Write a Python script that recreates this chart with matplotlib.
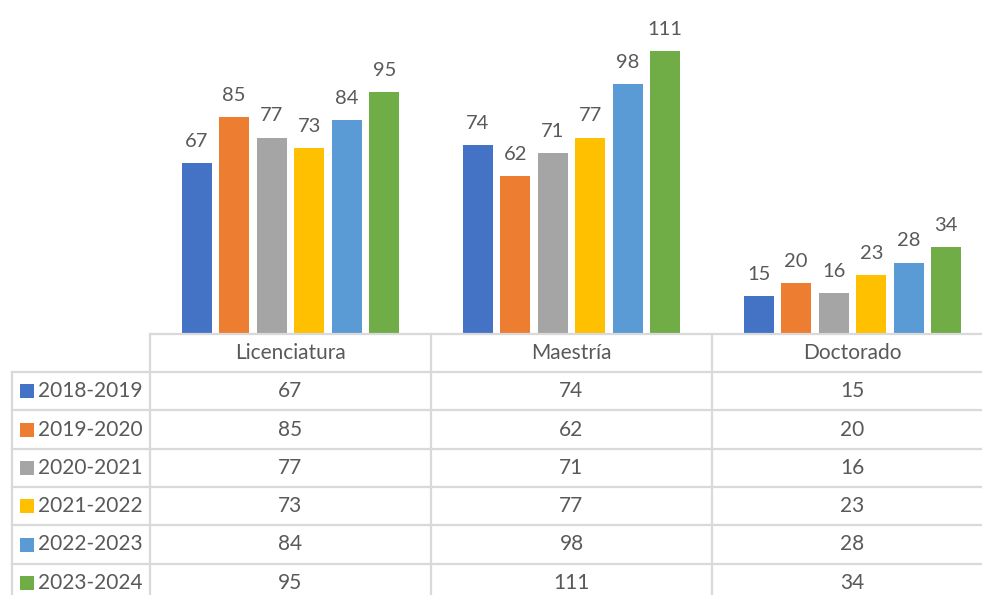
import numpy as np
import matplotlib.pyplot as plt

plt.rcParams['font.family'] = ['Lato', 'DejaVu Sans']

categories = ['Licenciatura', 'Maestría', 'Doctorado']
years = ['2018-2019', '2019-2020', '2020-2021', '2021-2022', '2022-2023', '2023-2024']
values = [
    [67, 74, 15],
    [85, 62, 20],
    [77, 71, 16],
    [73, 77, 23],
    [84, 98, 28],
    [95, 111, 34],
]
colors = ['#4472C4', '#ED7D31', '#A5A5A5', '#FFC000', '#5B9BD5', '#70AD47']

W, H = 982, 595
txt = '#595959'
grid = '#D9D9D9'

fig = plt.figure(figsize=(W / 100, H / 100), dpi=100)

# bar area (pixel layout from the reference)
x0, x1, ybase = 150, 993, 334
ax = fig.add_axes([x0 / W, (H - ybase) / H, (x1 - x0) / W, ybase / H])
x = np.arange(len(categories))
step, bw = 0.1335, 0.107
for i, (yr, vals) in enumerate(zip(years, values)):
    pos = x + (i - 2.5) * step
    bars = ax.bar(pos, vals, bw, color=colors[i])
    for b, v in zip(bars, vals):
        ax.annotate(str(v), (b.get_x() + b.get_width() / 2, v), xytext=(0, 9.5),
                    textcoords='offset points', ha='center', va='bottom',
                    fontsize=14.5, color=txt)
ax.set_xlim(-0.5, 2.5)
ax.set_ylim(0, 131)
ax.axis('off')

# data table drawn in pixel coordinates
tb = fig.add_axes([0, 0, 1, 1])
tb.set_xlim(0, W)
tb.set_ylim(H, 0)
tb.axis('off')

row_y = [334, 372, 410, 449, 487, 525, 564, 602]
col_x = [12, 150, 431, 712, 993]
lw = 1.6
tb.plot([150, W], [334, 334], color=grid, lw=lw)
for y in row_y[1:-1]:
    tb.plot([12, W], [y, y], color=grid, lw=lw)
tb.plot([12, 12], [372, H], color=grid, lw=lw)
for cx in col_x[1:4]:
    tb.plot([cx, cx], [334, H], color=grid, lw=lw)

col_c = [(col_x[j + 1] + col_x[j + 2]) / 2 for j in range(3)]
for j, c in enumerate(categories):
    tb.text(col_c[j], (row_y[0] + row_y[1]) / 2, c, ha='center', va='center',
            fontsize=15, color=txt)

for i, (yr, vals) in enumerate(zip(years, values)):
    yc = (row_y[i + 1] + row_y[i + 2]) / 2
    tb.add_patch(plt.Rectangle((20, yc - 7), 14, 14, color=colors[i], lw=0))
    tb.text(38, yc, yr, ha='left', va='center', fontsize=15, color=txt)
    for j, v in enumerate(vals):
        tb.text(col_c[j], yc, str(v), ha='center', va='center', fontsize=15, color=txt)

fig.savefig('out.png', dpi=100)
